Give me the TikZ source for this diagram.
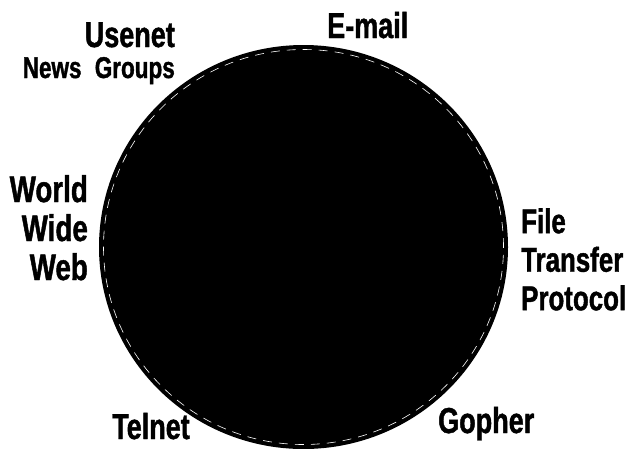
\documentclass[tikz,border=0pt]{standalone}
\usepackage{fontspec}
\newfontfamily\lblfont{Liberation Sans}[FakeStretch=0.75,FakeBold=1.2]
\begin{document}
\begin{tikzpicture}[x=1pt,y=-1pt,
  lbl/.style={inner sep=0pt, font=\lblfont\bfseries\fontsize{36}{38.5}\selectfont},
  ring/.style={draw=white, line width=0.6pt, dash pattern=on 9pt off 7pt}]
\useasboundingbox[fill=white] (0,0) rectangle (628,448);
% the big black disc
\fill[black] (303.5,247) ellipse [x radius=204.5pt, y radius=202pt];
\draw[ring] (303.5,247) ellipse [x radius=200pt, y radius=197.5pt];
% labels
\node[lbl, anchor=base east] (usenet) at (175,47) {Usenet};
\node[lbl, anchor=base east, font=\lblfont\bfseries\fontsize{30}{32}\selectfont] (news) at (175,78) {News\hspace{7pt} Groups};
\node[lbl, anchor=base west] (email) at (327,38) {E-mail};
\node[lbl, anchor=north east, align=right, font=\lblfont\bfseries\fontsize{37}{39}\selectfont] (www) at (88,175) {World\\Wide\\Web};
\node[lbl, anchor=north west, align=left, font=\lblfont\bfseries\fontsize{34.5}{38.5}\selectfont] (ftp) at (521,208) {File\\Transfer\\Protocol};
\node[lbl, anchor=base west] (telnet) at (112,439) {Telnet};
\node[lbl, anchor=base west] (gopher) at (438,433) {Gopher};
\end{tikzpicture}
\end{document}
